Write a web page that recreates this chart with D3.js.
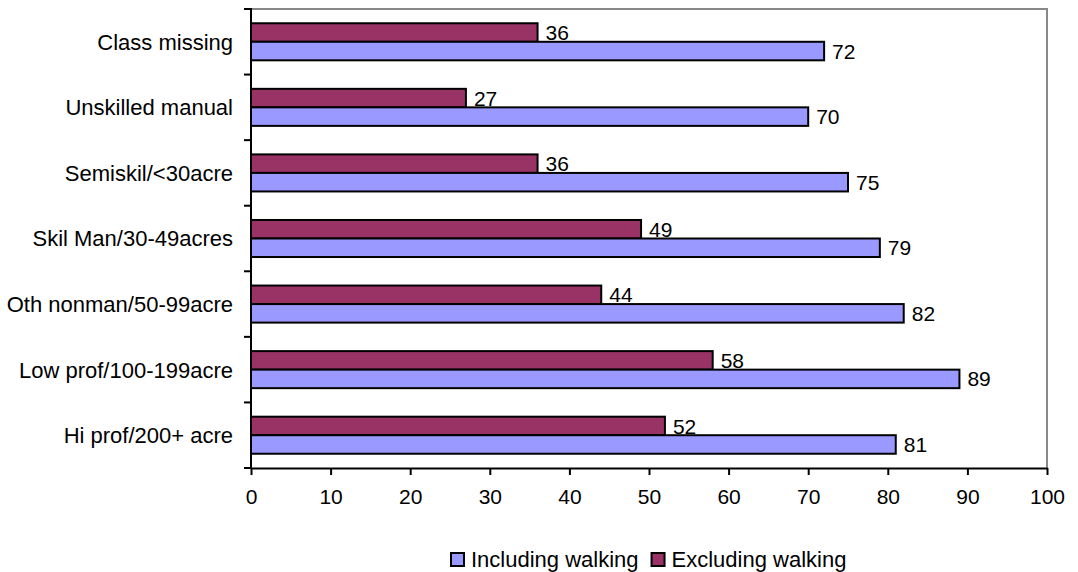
<!DOCTYPE html>
<html>
<head>
<meta charset="utf-8">
<script src="https://cdn.jsdelivr.net/npm/d3@7"></script>
<style>
  body { margin: 0; background: #fff; }
  svg { display: block; font-family: "Liberation Sans", Arial, sans-serif; }
</style>
</head>
<body>
<svg id="chart" width="1078" height="572"></svg>
<script>
// categories, top to bottom
const categories = [
  "Class missing",
  "Unskilled manual",
  "Semiskil/<30acre",
  "Skil Man/30-49acres",
  "Oth nonman/50-99acre",
  "Low prof/100-199acre",
  "Hi prof/200+ acre",
];
const excluding = [36, 27, 36, 49, 44, 58, 52];
const including = [72, 70, 75, 79, 82, 89, 81];
const xTicks = [0, 10, 20, 30, 40, 50, 60, 70, 80, 90, 100];
const seriesNames = ["Excluding walking", "Including walking"];
const legendOrder = ["Including walking", "Excluding walking"];
const colors = { "Including walking": "#9999ff", "Excluding walking": "#993366" };

const svg = d3.select("#chart");
const plotLeft = 251, plotRight = 1047, plotTop = 9, plotBottom = 468;

const x = d3.scaleLinear().domain([0, 100]).range([plotLeft, plotRight]);
const y = d3.scaleBand().domain(categories).range([plotTop, plotBottom]);
const ySub = d3.scaleBand().domain(seriesNames).range([0, y.bandwidth()]).paddingOuter(0.77);

// data rows
const rows = categories.map((c, i) => ({
  cat: c,
  values: [
    { name: "Excluding walking", v: excluding[i] },
    { name: "Including walking", v: including[i] },
  ],
}));

// top and right border (grey)
svg.append("path")
  .attr("d", `M${plotLeft},${plotTop}H${plotRight}V${plotBottom}`)
  .attr("fill", "none")
  .attr("stroke", "#888")
  .attr("stroke-width", 2);

// bars
const groups = svg.selectAll("g.grp")
  .data(rows)
  .enter()
  .append("g")
  .attr("class", "grp")
  .attr("transform", (d) => `translate(0,${y(d.cat)})`);

groups.selectAll("rect")
  .data((d) => d.values)
  .enter()
  .append("rect")
  .attr("x", x(0))
  .attr("y", (d) => ySub(d.name))
  .attr("width", (d) => x(d.v) - x(0))
  .attr("height", ySub.bandwidth())
  .attr("fill", (d) => colors[d.name])
  .attr("stroke", "#000")
  .attr("stroke-width", 2);

groups.selectAll("text")
  .data((d) => d.values)
  .enter()
  .append("text")
  .attr("x", (d) => x(d.v) + 8)
  .attr("y", (d) => ySub(d.name) + ySub.bandwidth() / 2)
  .attr("dy", "0.36em")
  .attr("font-size", 21)
  .attr("fill", "#000")
  .text((d) => d.v);

// x axis
const xAxis = svg.append("g")
  .attr("transform", `translate(0,${plotBottom})`)
  .call(d3.axisBottom(x).tickValues(xTicks).tickSize(7).tickPadding(14).tickSizeOuter(0));
xAxis.select(".domain").attr("stroke", "#000").attr("stroke-width", 2);
xAxis.selectAll(".tick line").attr("stroke", "#000").attr("stroke-width", 2);
xAxis.selectAll(".tick text")
  .attr("font-size", 21)
  .attr("font-family", "'Liberation Sans', Arial, sans-serif")
  .attr("fill", "#000");

// y axis: ticks at band boundaries
const yAxis = svg.append("g").attr("transform", `translate(${plotLeft},0)`);
yAxis.append("line")
  .attr("y1", plotTop - 1).attr("y2", plotBottom)
  .attr("stroke", "#000").attr("stroke-width", 2);
const bounds = categories.map((c) => y(c)).concat([plotBottom]);
yAxis.selectAll("line.tk")
  .data(bounds)
  .enter()
  .append("line")
  .attr("class", "tk")
  .attr("x1", -7).attr("x2", 0)
  .attr("y1", (d) => d).attr("y2", (d) => d)
  .attr("stroke", "#000").attr("stroke-width", 2);
yAxis.selectAll("text")
  .data(categories)
  .enter()
  .append("text")
  .attr("x", -18)
  .attr("y", (d) => y(d) + y.bandwidth() / 2)
  .attr("dy", "0.36em")
  .attr("text-anchor", "end")
  .attr("font-size", 22)
  .attr("fill", "#000")
  .text((d) => d);

// legend
const legend = svg.append("g").attr("transform", "translate(450,552)");
let lx = 0;
legendOrder.forEach((name) => {
  const item = legend.append("g").attr("transform", `translate(${lx},0)`);
  item.append("rect")
    .attr("x", 1).attr("y", 1)
    .attr("width", 13).attr("height", 13)
    .attr("fill", colors[name])
    .attr("stroke", "#000")
    .attr("stroke-width", 2);
  const t = item.append("text")
    .attr("x", 21)
    .attr("y", 7)
    .attr("dy", "0.36em")
    .attr("font-size", 22)
    .attr("fill", "#000")
    .text(name);
  lx += 21 + t.node().getComputedTextLength() + 12;
});
</script>
</body>
</html>
